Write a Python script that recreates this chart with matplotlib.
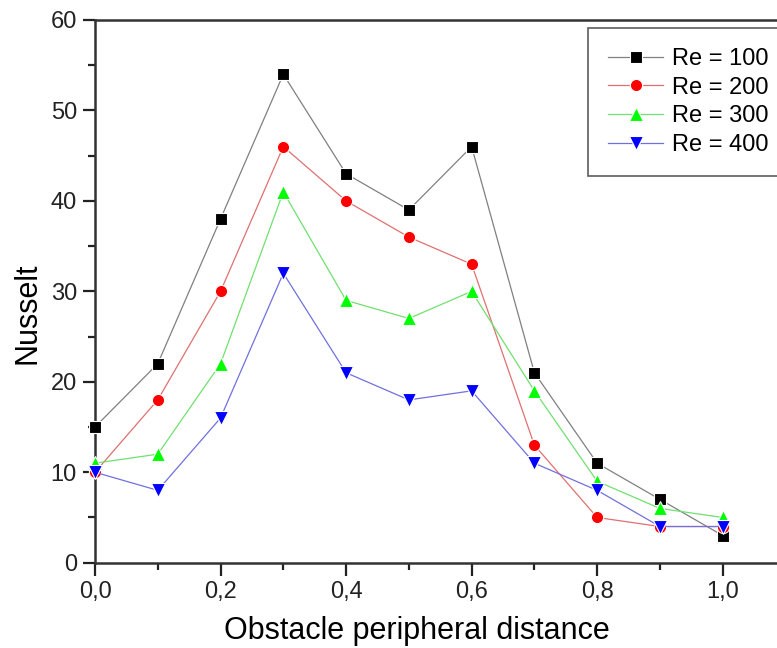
import matplotlib
matplotlib.use("Agg")
import matplotlib.pyplot as plt
from matplotlib.ticker import MultipleLocator, FuncFormatter

plt.rcParams['font.family'] = ['Liberation Sans', 'DejaVu Sans']

distance = [0.0, 0.1, 0.2, 0.3, 0.4, 0.5, 0.6, 0.7, 0.8, 0.9, 1.0]
nu_re100 = [15, 22, 38, 54, 43, 39, 46, 21, 11, 7, 3]
nu_re200 = [10, 18, 30, 46, 40, 36, 33, 13, 5, 4, 4]
nu_re300 = [11, 12, 22, 41, 29, 27, 30, 19, 9, 6, 5]
nu_re400 = [10, 8, 16, 32, 21, 18, 19, 11, 8, 4, 4]
labels = ["Re = 100", "Re = 200", "Re = 300", "Re = 400"]

W, H = 777, 648
fig = plt.figure(figsize=(W / 100, H / 100), dpi=100)
ax = fig.add_axes([95 / W, (H - 562.7) / H, (W - 95) / W, 542.7 / H])

series = [
    (nu_re100, 's', '#000000', '#808080', 8.0),
    (nu_re200, 'o', '#ff0000', '#e07070', 8.8),
    (nu_re300, '^', '#00ff00', '#70e070', 10),
    (nu_re400, 'v', '#0000ff', '#7070e0', 10),
]
for (vals, mk, mc, lc, ms), lab in zip(series, labels):
    ax.plot(distance, vals, color=lc, lw=0.9, marker=mk, markersize=ms,
            markerfacecolor=mc, markeredgecolor='white', markeredgewidth=0.8,
            label=lab, clip_on=False, zorder=3)

ax.set_xlim(0, (W - 95) / 627.7)
ax.set_ylim(0, 60)
ax.xaxis.set_major_locator(MultipleLocator(0.2))
ax.xaxis.set_minor_locator(MultipleLocator(0.1))
ax.yaxis.set_major_locator(MultipleLocator(10))
ax.yaxis.set_minor_locator(MultipleLocator(5))
ax.xaxis.set_major_formatter(FuncFormatter(lambda v, p: f"{v:.1f}".replace('.', ',')))

ax.spines['right'].set_visible(False)
for s in ('left', 'bottom', 'top'):
    ax.spines[s].set_linewidth(1.8)
    ax.spines[s].set_color('#333333')
ax.tick_params(which='major', direction='out', length=9, width=1.6, labelsize=17,
               colors='#222222', pad=4)
ax.tick_params(which='minor', direction='out', length=5, width=1.6, colors='#222222')

ax.set_xlabel("Obstacle peripheral distance", fontsize=22)
ax.set_ylabel("Nusselt", fontsize=22)
ax.xaxis.set_label_coords((417 - 95) / (W - 95), -(631 - 562.7) / 542.7)
ax.yaxis.set_label_coords(-(95 - 28) / (W - 95), (562.7 - 313) / 542.7)
ax.xaxis.label.set_verticalalignment('center')
ax.yaxis.label.set_verticalalignment('center')

leg = ax.legend(loc='upper left', bbox_to_anchor=(588 / W, 1 - 28 / H),
                bbox_transform=fig.transFigure, fontsize=17, frameon=True,
                fancybox=False, handlelength=2.33, handletextpad=0.38,
                labelspacing=0.28, borderpad=0.85, borderaxespad=0)
leg.get_frame().set_edgecolor('#333333')
leg.get_frame().set_linewidth(1.2)

fig.savefig("out.png", dpi=100)
